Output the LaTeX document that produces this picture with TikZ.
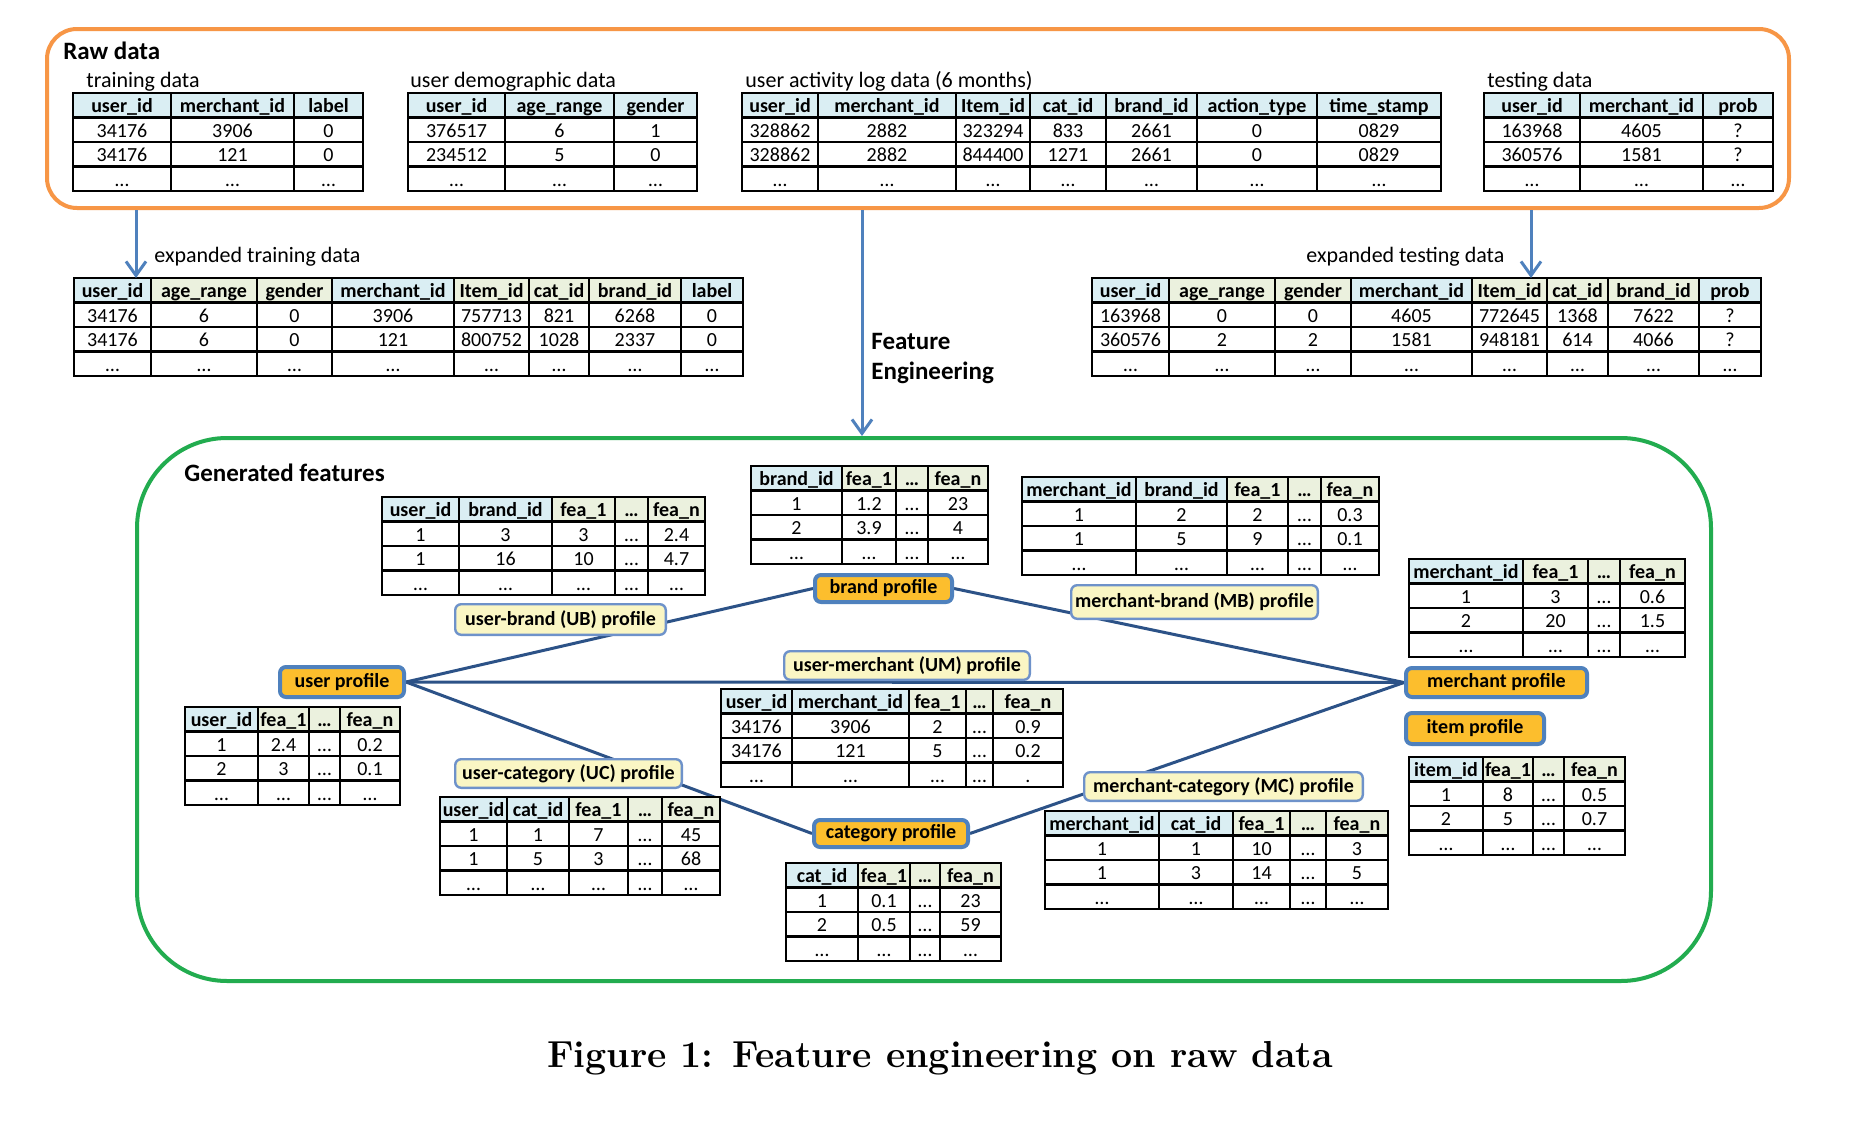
\documentclass[tikz,border=0pt]{standalone}
\usepackage{fontspec}
\setmainfont{Carlito}
\newfontfamily\capfont{Latin Modern Roman}
\usetikzlibrary{arrows.meta,backgrounds}
\definecolor{hb}{RGB}{218,238,243}
\definecolor{hg}{RGB}{235,241,222}
\definecolor{rawc}{RGB}{247,150,70}
\definecolor{genc}{RGB}{34,172,79}
\definecolor{arrc}{RGB}{79,129,189}
\definecolor{linec}{RGB}{44,82,135}
\definecolor{profc}{RGB}{252,190,45}
\definecolor{profb}{RGB}{79,129,189}
\definecolor{relc}{RGB}{250,246,196}
\definecolor{relb}{RGB}{110,146,202}

\newcommand\tbl[5]{% #1 name, #2 ytop, #3 xs, #4 header, #5 rows
  \def\tblxs{{#3}}%
  \def\tblrh{24.5}%
  \foreach \hcol/\htxt [count=\kk from 0] in {#4} {%
    \pgfmathsetmacro\xa{\tblxs[\kk]}%
    \pgfmathsetmacro\xb{\tblxs[\kk+1]}%
    \fill[\hcol] (\xa,#2) rectangle (\xb,#2+\tblrh);
    \node[hdr] (#1-h\kk) at ({(\xa+\xb)/2},{#2+0.8*\tblrh}) {\htxt};
  }
  \foreach \row [count=\rr] in {#5} {%
    \foreach \cellt [count=\kk from 0] in \row {%
      \pgfmathsetmacro\xa{\tblxs[\kk]}%
      \pgfmathsetmacro\xb{\tblxs[\kk+1]}%
      \node[cell] (#1-\rr-\kk) at ({(\xa+\xb)/2},{#2+(\rr+0.8)*\tblrh}) {\cellt};
    }
  }
  \pgfmathsetmacro\tblfirst{\tblxs[0]}%
  \foreach \xx in {#3} {\xdef\tbllast{\xx}}%
  \foreach \xx in {#3} {\draw[grid] (\xx,#2) -- (\xx,#2+4*\tblrh);}
  \foreach \ii in {1,2,3} {\draw[grid] (\tblfirst,#2+\ii*\tblrh) -- (\tbllast,#2+\ii*\tblrh);}
  \draw[grid] (\tblfirst,#2) rectangle (\tbllast,#2+4*\tblrh);
  \coordinate (#1-nw) at (\tblfirst,#2);
  \coordinate (#1-ne) at (\tbllast,#2);
}

\begin{document}
\begin{tikzpicture}[x=0.5pt,y=-0.5pt,
  hdr/.style={font=\bfseries\fontsize{10}{12}\selectfont, inner sep=0pt, anchor=base},
  cell/.style={font=\fontsize{10}{12}\selectfont, inner sep=0pt, anchor=base},
  grid/.style={line width=1.3pt, black},
  lbl/.style={font=\fontsize{11}{13}\selectfont, inner sep=0pt, anchor=base west},
  ttl/.style={font=\bfseries\fontsize{12.5}{15}\selectfont, inner sep=0pt, anchor=base west},
  prof/.style={draw=profb, line width=2pt, fill=profc, rounded corners=3pt, inner sep=0pt, font=\bfseries\fontsize{10}{12}\selectfont},
  relbox/.style={draw=relb, line width=1.2pt, fill=relc, rounded corners=3pt, inner sep=0pt, font=\bfseries\fontsize{10}{12}\selectfont},
  link/.style={draw=linec, line width=1.5pt},
  arr/.style={draw=arrc, line width=1.5pt, -{Straight Barb[length=7pt,width=10pt]}},
]
\useasboundingbox (0,0) rectangle (1870,1124);
\begin{pgfonlayer}{background}
  \fill[white] (0,0) rectangle (1870,1124);
\end{pgfonlayer}

% containers
\node[draw=rawc, line width=2pt, rounded corners=15pt, minimum width=871pt, minimum height=89.5pt, inner sep=0pt] (raw) at (918,118.5) {};
\node[draw=genc, line width=2pt, rounded corners=45pt, minimum width=787pt, minimum height=271.5pt, inner sep=0pt] (gen) at (924,709.5) {};

% titles and labels
\node[ttl] (rawt) at (63,60) {Raw data};
\node[lbl] (l1) at (86,87) {training data};
\node[lbl] (l2) at (410,87) {user demographic data};
\node[lbl] (l3) at (745,87) {user activity log data (6 months)};
\node[lbl] (l4) at (1487,87) {testing data};
\node[lbl] (l5) at (154,262) {expanded training data};
\node[lbl] (l6) at (1306,262) {expanded testing data};
\node[ttl] (fe1) at (871,349) {Feature};
\node[ttl] (fe2) at (871,379) {Engineering};
\node[ttl] (gent) at (184,481) {Generated features};

% raw tables
\tbl{train}{93}{73,171,294,363}{hb/user\_id,hb/merchant\_id,hb/label}{{34176,3906,0},{34176,121,0},{…,…,…}}
\tbl{demo}{93}{408,505,614,697}{hb/user\_id,hb/age\_range,hb/gender}{{376517,6,1},{234512,5,0},{…,…,…}}
\tbl{act}{93}{742,818,956,1030,1106,1197,1317,1441}{hb/user\_id,hb/merchant\_id,hb/Item\_id,hb/cat\_id,hb/brand\_id,hb/action\_type,hb/time\_stamp}{{328862,2882,323294,833,2661,0,0829},{328862,2882,844400,1271,2661,0,0829},{…,…,…,…,…,…,…}}
\tbl{test}{93}{1484,1580,1703,1773}{hb/user\_id,hb/merchant\_id,hb/prob}{{163968,4605,?},{360576,1581,?},{…,…,…}}

% expanded tables
\tbl{exptrain}{278}{74,151,257,332,454,529,589,681,743}{hb/user\_id,hg/age\_range,hg/gender,hb/merchant\_id,hg/Item\_id,hg/cat\_id,hg/brand\_id,hb/label}{{34176,6,0,3906,757713,821,6268,0},{34176,6,0,121,800752,1028,2337,0},{…,…,…,…,…,…,…,…}}
\tbl{exptest}{278}{1092,1169,1275,1351,1472,1547,1608,1699,1761}{hb/user\_id,hg/age\_range,hg/gender,hb/merchant\_id,hg/Item\_id,hg/cat\_id,hg/brand\_id,hb/prob}{{163968,0,0,4605,772645,1368,7622,?},{360576,2,2,1581,948181,614,4066,?},{…,…,…,…,…,…,…,…}}

% generated feature tables
\tbl{ubt}{497}{382,459,552,615,648,705}{hb/\underline{user\_id},hb/\underline{brand\_id},hg/fea\_1,hg/…,hg/fea\_n}{{1,3,3,…,2.4},{1,16,10,…,4.7},{…,…,…,…,…}}
\tbl{brandt}{466}{751,842,896,928,988}{hb/\underline{brand\_id},hg/fea\_1,hg/…,hg/fea\_n}{{1,1.2,…,23},{2,3.9,…,4},{…,…,…,…}}
\tbl{mbt}{477}{1022,1136,1227,1288,1321,1379}{hb/\underline{merchant\_id},hb/\underline{brand\_id},hg/fea\_1,hg/…,hg/fea\_n}{{1,2,2,…,0.3},{1,5,9,…,0.1},{…,…,…,…,…}}
\tbl{merchtab}{559}{1409,1523,1588,1620,1685}{hb/\underline{merchant\_id},hg/fea\_1,hg/…,hg/fea\_n}{{1,3,…,0.6},{2,20,…,1.5},{…,…,…,…}}
\tbl{itemt}{757}{1409,1483,1533,1564,1625}{hb/\underline{item\_id},hg/fea\_1,hg/…,hg/fea\_n}{{1,8,…,0.5},{2,5,…,0.7},{…,…,…,…}}
\tbl{usert}{707}{185,258,309,340,400}{hb/\underline{user\_id},hg/fea\_1,hg/…,hg/fea\_n}{{1,2.4,…,0.2},{2,3,…,0.1},{…,…,…,…}}
\tbl{uct}{797}{440,507,569,628,662,720}{hb/\underline{user\_id},hb/\underline{cat\_id},hg/fea\_1,hg/…,hg/fea\_n}{{1,1,7,…,45},{1,5,3,…,68},{…,…,…,…,…}}
\tbl{umt}{689}{721,792,909,966,993,1063}{hb/\underline{user\_id},hb/\underline{merchant\_id},hg/fea\_1,hg/…,hg/fea\_n}{{34176,3906,2,…,0.9},{34176,121,5,…,0.2},{…,…,…,…,.}}
\tbl{catt}{863}{786,858,910,940,1001}{hb/\underline{cat\_id},hg/fea\_1,hg/…,hg/fea\_n}{{1,0.1,…,23},{2,0.5,…,59},{…,…,…,…}}
\tbl{mct}{811}{1045,1159,1233,1290,1326,1388}{hb/\underline{merchant\_id},hb/\underline{cat\_id},hg/fea\_1,hg/…,hg/fea\_n}{{1,1,10,…,3},{1,3,14,…,5},{…,…,…,…,…}}

% profile nodes
\node[prof, minimum width=62pt, minimum height=15pt] (userp) at (342,682) {user profile};
\node[prof, minimum width=68.5pt, minimum height=13.5pt] (brandp) at (883.5,588.5) {brand profile};
\node[prof, minimum width=90.5pt, minimum height=14.5pt] (merchp) at (1496.5,682.5) {merchant profile};
\node[prof, minimum width=69pt, minimum height=15.5pt] (itemp) at (1475,728.5) {item profile};
\node[prof, minimum width=77pt, minimum height=13.5pt] (catp) at (891,833.5) {category profile};

% relation labels
\node[relbox, minimum width=105.3pt, minimum height=15.3pt] (ubr) at (560.5,619.5) {user-brand (UB) profile};
\node[relbox, minimum width=123.3pt, minimum height=16.8pt] (mbr) at (1194.5,602) {merchant-brand (MB) profile};
\node[relbox, minimum width=122.8pt, minimum height=14.3pt] (umr) at (907,665.5) {user-merchant (UM) profile};
\node[relbox, minimum width=113.3pt, minimum height=14.3pt] (ucr) at (568.5,773.5) {user-category (UC) profile};
\node[relbox, minimum width=139.3pt, minimum height=14.3pt] (mcr) at (1223.5,786.5) {merchant-category (MC) profile};

% links
\begin{pgfonlayer}{background}
  \draw[link] (userp.east) -- (brandp.west);
  \draw[link] (brandp.east) -- (merchp.west);
  \draw[link] (userp.east) -- (merchp.west);
  \draw[link] (userp.east) -- (catp.west);
  \draw[link] (catp.east) -- (merchp.west);
\end{pgfonlayer}

% arrows
\coordinate (aL) at (136,0);
\coordinate (aM) at (862,0);
\coordinate (aR) at (1531,0);
\draw[arr] (raw.south -| aL) -- (aL |- exptrain-nw);
\draw[arr] (raw.south -| aM) -- (aM |- gen.north);
\draw[arr] (raw.south -| aR) -- (aR |- exptest-nw);

% caption
\node[font=\capfont\bfseries\fontsize{18.8}{22}\selectfont, anchor=base, inner sep=0pt] (cap) at (940,1067) {Figure 1: Feature engineering on raw data};
\end{tikzpicture}
\end{document}
